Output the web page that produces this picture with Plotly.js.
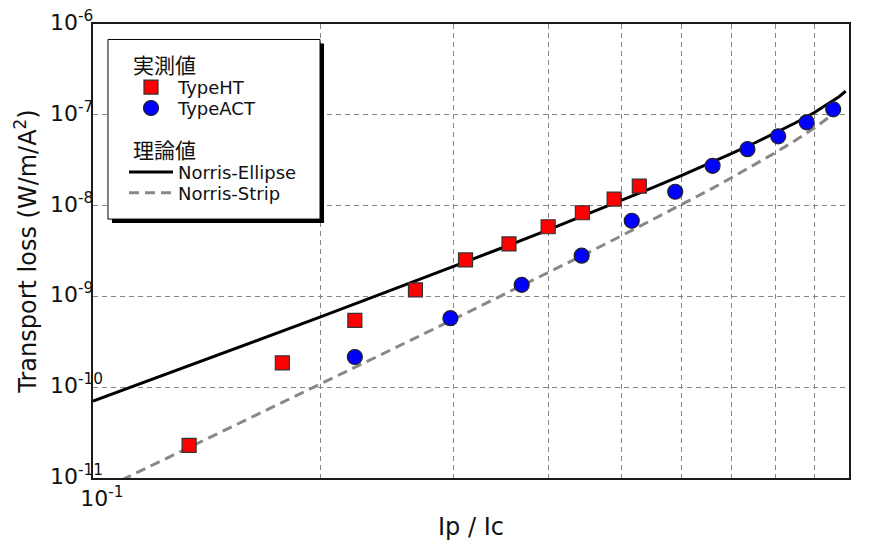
<!DOCTYPE html>
<html>
<head>
<meta charset="utf-8">
<script src="https://cdn.plot.ly/plotly-3.0.1.min.js"></script>
<style>html,body{margin:0;padding:0;background:#fff}</style>
</head>
<body>
<div id="chart" style="width:876px;height:545px"></div>
<script>
// Measured transport loss, TypeHT tape
const htRatio = [0.134, 0.178, 0.222, 0.267, 0.311, 0.355, 0.400, 0.444, 0.489, 0.528];
const htLoss  = [2.29e-11, 1.85e-10, 5.45e-10, 1.18e-9, 2.52e-9, 3.78e-9, 5.85e-9, 8.34e-9, 1.18e-8, 1.64e-8];

// Measured transport loss, TypeACT tape
const actRatio = [0.222, 0.297, 0.369, 0.443, 0.516, 0.589, 0.660, 0.734, 0.806, 0.879, 0.953];
const actLoss  = [2.15e-10, 5.76e-10, 1.34e-9, 2.81e-9, 6.81e-9, 1.42e-8, 2.74e-8, 4.18e-8, 5.80e-8, 8.27e-8, 1.15e-7];

// Theoretical curve, Norris elliptical cross-section
const ellipseRatio = [0.10, 0.12, 0.15, 0.20, 0.25, 0.30, 0.35, 0.40, 0.45, 0.50, 0.55, 0.60, 0.65, 0.70, 0.75, 0.80, 0.85, 0.90, 0.95, 0.97, 0.99];
const ellipseLoss  = [7.02e-11, 1.23e-10, 2.44e-10, 5.94e-10, 1.20e-9, 2.13e-9, 3.50e-9, 5.40e-9, 7.98e-9, 1.14e-8, 1.58e-8, 2.14e-8, 2.85e-8, 3.75e-8, 4.89e-8, 6.32e-8, 8.17e-8, 1.06e-7, 1.40e-7, 1.58e-7, 1.82e-7];

// Theoretical curve, Norris thin strip
const stripRatio = [0.10, 0.15, 0.20, 0.25, 0.30, 0.35, 0.40, 0.45, 0.50, 0.55, 0.60, 0.65, 0.70, 0.75, 0.80, 0.85, 0.90, 0.95];
const stripLoss  = [6.69e-12, 3.40e-11, 1.08e-10, 2.67e-10, 5.60e-10, 1.05e-9, 1.83e-9, 2.98e-9, 4.65e-9, 6.99e-9, 1.02e-8, 1.45e-8, 2.04e-8, 2.81e-8, 3.85e-8, 5.24e-8, 7.17e-8, 1.00e-7];

// Axis ticks and gridlines
const xTickVals = [0.1, 1];
const xTickText = ['10<sup>-1</sup>', '10<sup>0</sup>'];
const xGridVals = [0.2, 0.3, 0.4, 0.5, 0.6, 0.7, 0.8, 0.9];
const yTickVals = [1e-11, 1e-10, 1e-9, 1e-8, 1e-7, 1e-6];
const yTickText = ['10<sup>-11</sup>', '10<sup>-10</sup>', '10<sup>-9</sup>', '10<sup>-8</sup>', '10<sup>-7</sup>', '10<sup>-6</sup>'];

// Legend section headings
const groupTitles = ['実測値', '理論値'];

const FONT = 'DejaVu Sans, Verdana, sans-serif';
const CJK = 'Noto Sans CJK JP, sans-serif';
const INK = '#111';

const traces = [
  {
    x: ellipseRatio, y: ellipseLoss, mode: 'lines', name: 'Norris-Ellipse', legend: 'legend3',
    line: {color: '#000', width: 3}
  },
  {
    x: stripRatio, y: stripLoss, mode: 'lines', name: 'Norris-Strip', legend: 'legend4',
    line: {color: '#888', width: 3, dash: '10px,6px'}
  },
  {
    x: htRatio, y: htLoss, mode: 'markers', name: 'TypeHT', legend: 'legend',
    marker: {symbol: 'square', size: 14, color: '#ff0000', line: {color: '#333', width: 1.2}}
  },
  {
    x: actRatio, y: actLoss, mode: 'markers', name: 'TypeACT', legend: 'legend2',
    marker: {symbol: 'circle', size: 15, color: '#0000ff', line: {color: '#222', width: 1.2}}
  }
];

const gridStyle = {showgrid: true, gridcolor: '#858585', gridwidth: 1, griddash: '5px,4px'};

// one single-entry legend per row so each row sits where the panel needs it
function legendRow(y) {
  return {
    x: 0.041, y: y, xanchor: 'left', yanchor: 'middle',
    bgcolor: 'rgba(0,0,0,0)', borderwidth: 0, itemwidth: 44,
    font: {family: FONT, size: 18, color: INK}
  };
}

// y tick labels, left aligned like the original figure
const yLabelNotes = yTickVals.map((v, i) => ({
  xref: 'paper', yref: 'y', x: -0.0595, y: Math.log10(v),
  xanchor: 'left', yanchor: 'middle', yshift: 3,
  text: yTickText[i], showarrow: false,
  font: {family: FONT, size: 22, color: INK}
}));

const groupNotes = [
  {xref: 'paper', yref: 'paper', x: 0.0500, y: 0.9110, xanchor: 'left', yanchor: 'middle',
   text: groupTitles[0], showarrow: false, font: {family: CJK, size: 21, color: INK}},
  {xref: 'paper', yref: 'paper', x: 0.0500, y: 0.7242, xanchor: 'left', yanchor: 'middle',
   text: groupTitles[1], showarrow: false, font: {family: CJK, size: 21, color: INK}}
];

const layout = {
  width: 876, height: 545,
  paper_bgcolor: '#fff', plot_bgcolor: '#fff',
  margin: {l: 93, r: 27, t: 24, b: 67, pad: 0},
  font: {family: FONT, size: 20, color: INK},
  showlegend: true,
  legend: legendRow(0.8604),
  legend2: legendRow(0.8143),
  legend3: legendRow(0.6736),
  legend4: legendRow(0.6275),
  xaxis: Object.assign({
    type: 'log', range: [-1, 0],
    tickmode: 'array', tickvals: xTickVals, ticktext: xTickText,
    ticks: '', tickfont: {family: FONT, size: 22, color: INK},
    ticklabelshift: 9,
    minor: Object.assign({tickmode: 'array', tickvals: xGridVals, ticks: ''}, gridStyle),
    showline: true, linecolor: '#1a1a1a', linewidth: 2, mirror: true,
    zeroline: false,
    title: {text: 'Ip / Ic', font: {family: FONT, size: 24, color: INK}, standoff: 8}
  }, gridStyle),
  yaxis: Object.assign({
    type: 'log', range: [-11, -6],
    tickmode: 'array', tickvals: yTickVals, ticktext: yTickText,
    showticklabels: false, ticks: '',
    showline: true, linecolor: '#1a1a1a', linewidth: 2, mirror: true,
    zeroline: false,
    title: {text: 'Transport loss (W/m/A<sup>2</sup>)', font: {family: FONT, size: 24, color: INK}, standoff: 48}
  }, gridStyle),
  annotations: yLabelNotes.concat(groupNotes),
  shapes: [
    // drop shadow of the legend panel
    {type: 'rect', xref: 'paper', yref: 'paper', layer: 'above',
     x0: 0.0251, x1: 0.3056, y0: 0.5615, y1: 0.9571,
     fillcolor: '#000', line: {width: 0}},
    // legend panel
    {type: 'rect', xref: 'paper', yref: 'paper', layer: 'above',
     x0: 0.0198, x1: 0.3003, y0: 0.5703, y1: 0.9659,
     fillcolor: '#fff', line: {color: '#000', width: 1}}
  ]
};

Plotly.newPlot('chart', traces, layout, {staticPlot: true, displayModeBar: false});
</script>
</body>
</html>
